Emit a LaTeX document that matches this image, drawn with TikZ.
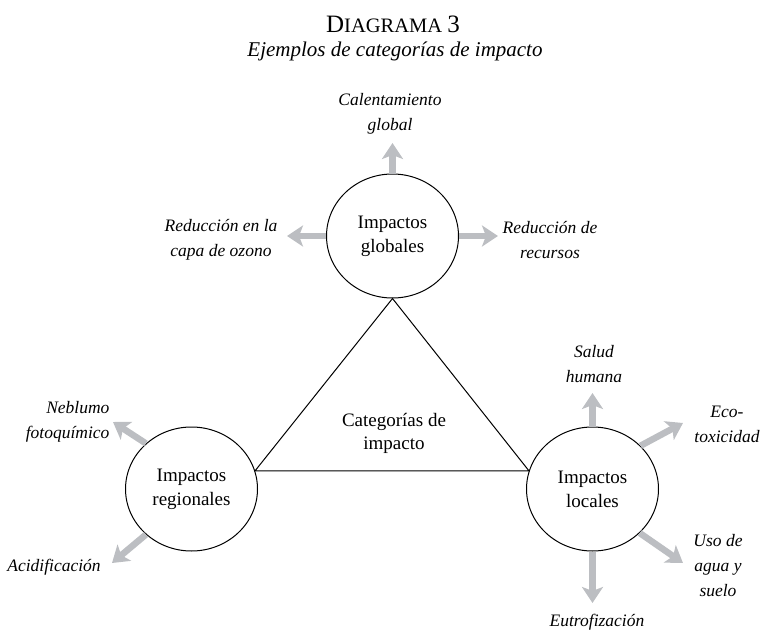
\documentclass[tikz,border=0pt]{standalone}
\usepackage{fontspec}
\setmainfont{Liberation Serif}
\usepackage{tikz}
\usetikzlibrary{shapes.geometric, arrows.meta}
\definecolor{arrowgray}{RGB}{188,190,194}
\tikzset{>=latex}
\tikzset{
  impacto/.style={ellipse, draw, line width=1pt, minimum width=132pt, minimum height=124pt,
    inner sep=0pt, align=center, font=\fontsize{19}{24}\selectfont},
  categoria/.style={align=center, font=\itshape\fontsize{17.5}{25}\selectfont},
  grayarrow/.style={draw=arrowgray, line width=6.5pt,
    -{Stealth[length=16pt, width=21pt, inset=4pt]}}
}
\begin{document}
\begin{tikzpicture}[x=1pt, y=-1pt]
\useasboundingbox (0,0) rectangle (764,634);
\node (titulo) at (393,24) {\fontsize{25}{28}\selectfont D\fontsize{20.5}{28}\selectfont IAGRAMA \fontsize{25}{28}\selectfont 3};
\node (subtitulo) at (395,51) {\itshape\fontsize{21}{26}\selectfont Ejemplos de categorías de impacto};
\node[impacto] (global) at (392.5,236) {Impactos\\globales};
\node[impacto] (regional) at (191.5,489) {Impactos\\regionales};
\node[impacto] (local) at (592.5,489) {Impactos\\locales};
\node[align=center, font=\fontsize{19}{23}\selectfont] (cat) at (394,433) {Categorías de\\impacto};
\draw[line width=1pt] (global.south) -- (regional.16) -- (local.164) -- cycle;
\coordinate (tcal) at (392.5,143);
\coordinate (tozo) at (287,236);
\coordinate (trec) at (498,236);
\coordinate (tneb) at (113,422);
\coordinate (tacid) at (112,563);
\coordinate (tsal) at (592.5,393);
\coordinate (teco) at (683,423);
\coordinate (tuso) at (683,563);
\coordinate (teut) at (592.5,603);
\foreach \from/\to in {global.north/tcal, global.west/tozo, global.east/trec,
  regional.135/tneb, regional.225/tacid,
  local.north/tsal, local.42/teco, local.-43/tuso, local.south/teut}
  \draw[grayarrow] (\from) -- (\to);
\node[categoria] (cal) at (390,114) {Calentamiento\\global};
\node[categoria] (ozo) at (221,240) {Reducción en la\\capa de ozono};
\node[categoria] (rec) at (550,240) {Reducción de\\recursos};
\node[categoria, align=right, anchor=east] (neb) at (113,422) {Neblumo\\fotoquímico};
\node[categoria] (acid) at (54,567) {Acidificación};
\node[categoria] (sal) at (594,364) {Salud\\humana};
\node[categoria] (eco) at (727,424) {Eco-\\toxicidad};
\node[categoria] (uso) at (718,566) {Uso de\\agua y\\suelo};
\node[categoria] (eut) at (597,622) {Eutrofización};
\end{tikzpicture}
\end{document}
